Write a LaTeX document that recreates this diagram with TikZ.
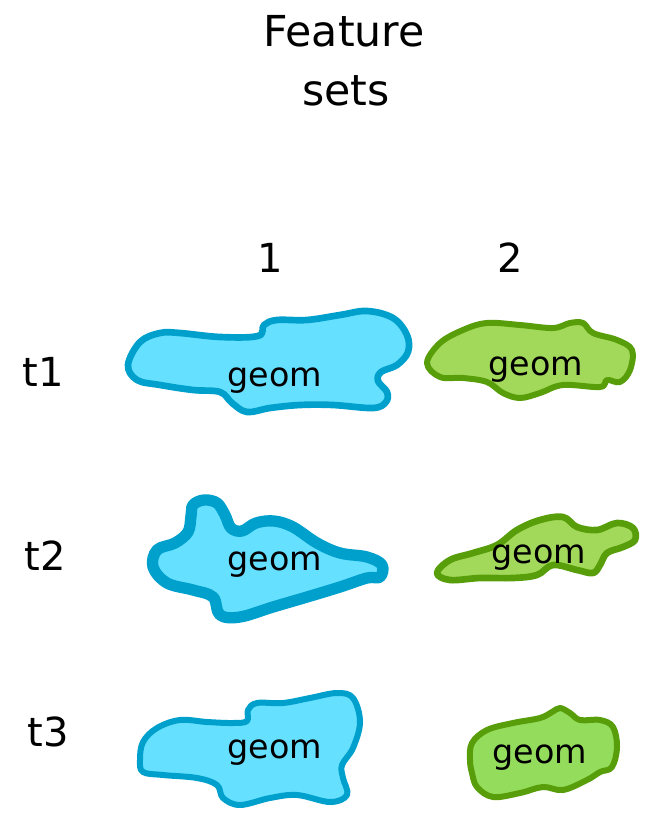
\documentclass[tikz,border=0pt]{standalone}
\usepackage{fontspec}
\setmainfont{DejaVu Sans}
\definecolor{bluefill}{RGB}{102,224,255}
\definecolor{bluedraw}{RGB}{0,160,204}
\definecolor{greenfill}{RGB}{163,217,90}
\definecolor{greenfillb}{RGB}{147,220,92}
\definecolor{greendraw}{RGB}{88,158,10}
\begin{document}
\begin{tikzpicture}[x=0.75pt,y=-0.75pt,
  title/.style={font=\fontsize{32}{38}\selectfont, anchor=base},
  lbl/.style={font=\fontsize{30}{36}\selectfont, anchor=base},
  geomtxt/.style={font=\fontsize{25}{30}\selectfont, anchor=base},
  blueblob/.style={fill=bluefill, draw=bluedraw, line width=5pt, line join=round},
  greenblob/.style={fill=greenfill, draw=greendraw, line width=4.5pt, line join=round}]
\useasboundingbox (0,0) rectangle (654,837);

% blobs
\draw[blueblob] plot[smooth cycle, tension=0.6] coordinates {
 (128,365) (140,342) (160,333) (180,333) (220,337) (258,336) (264,325) (277,320)
 (307,320) (340,315) (367,311) (393,318) (407,335) (408,352) (397,365) (381,372)
 (378,381) (387,392) (386,402) (373,408) (333,405) (300,405) (270,408) (247,412)
 (232,403) (220,392) (193,390) (160,385) (137,380)};
\draw[greenblob] plot[smooth cycle, tension=0.6] coordinates {
 (427,363) (440,343) (463,330) (487,323) (520,325) (553,328) (570,323) (583,323)
 (593,333) (617,340) (632,350) (630,370) (620,382) (607,380) (600,387) (563,385)
 (540,393) (520,398) (503,393) (487,382) (463,378) (440,377)};
\draw[blueblob, line width=8.5pt] plot[smooth cycle, tension=0.6] coordinates {
 (191,516) (193,505) (204,500) (217,503) (225,515) (231,528) (242,531) (256,523)
 (274,521) (293,527) (317,543) (340,553) (367,557) (382,565) (380,577) (367,578)
 (340,587) (307,597) (273,607) (240,617) (220,615) (213,597) (193,590) (167,583)
 (153,567) (157,550) (175,543) (188,532)};
\draw[greenblob, line width=5pt] plot[smooth cycle, tension=0.6] coordinates {
 (437,573) (450,560) (473,553) (497,545) (517,530) (540,520) (563,517) (577,527)
 (597,530) (617,523) (633,528) (635,540) (623,547) (607,553) (600,565) (593,573)
 (577,570) (553,565) (537,575) (513,578) (480,578) (450,580)};
\draw[blueblob, line width=4.5pt] plot[smooth cycle, tension=0.6] coordinates {
 (140,760) (143,742) (157,728) (180,720) (207,722) (233,723) (247,721) (248,710)
 (257,703) (283,703) (310,698) (337,693) (353,698) (360,722) (353,748) (342,765)
 (343,778) (347,795) (330,802) (297,795) (270,798) (240,805) (223,798) (217,785)
 (197,778) (163,775) (143,772)};
\draw[greenblob, fill=greenfillb] plot[smooth cycle, tension=0.6] coordinates {
 (470,760) (472,743) (487,730) (513,723) (540,718) (552,712) (560,708) (570,713)
 (580,720) (600,720) (613,727) (617,747) (612,767) (600,772) (587,780) (563,790)
 (543,787) (520,793) (493,797) (477,787) (472,773)};

% texts
\node[title] (tf) at (344,47) {Feature};
\node[title] (ts) at (346,106) {sets};
\node[lbl] (c1) at (270,273) {1};
\node[lbl] (c2) at (510,273) {2};
\node[lbl] (r1) at (43,386) {t1};
\node[lbl] (r2) at (45,570) {t2};
\node[lbl] (r3) at (48,746) {t3};
\node[geomtxt] (g11) at (275,386) {geom};
\node[geomtxt] (g12) at (536,375) {geom};
\node[geomtxt] (g21) at (275,570) {geom};
\node[geomtxt] (g22) at (539,563) {geom};
\node[geomtxt] (g31) at (275,758) {geom};
\node[geomtxt] (g32) at (540,763) {geom};
\end{tikzpicture}
\end{document}
